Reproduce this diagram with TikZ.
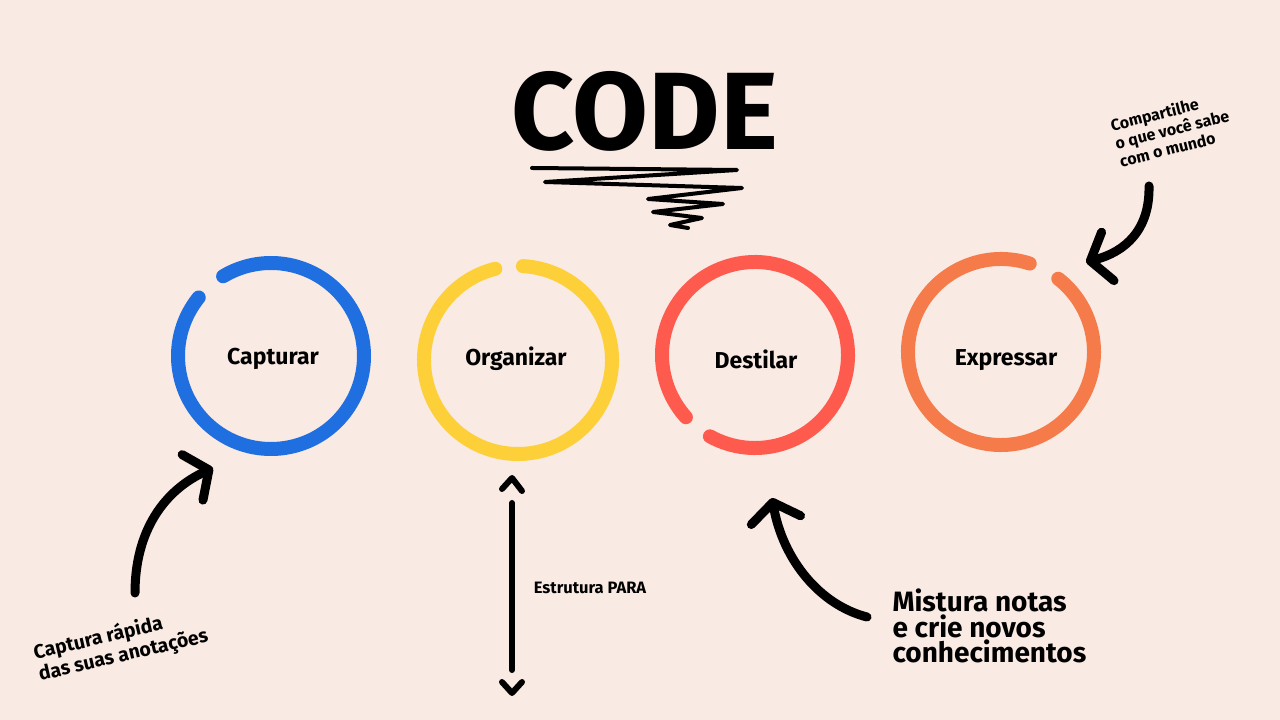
\documentclass[tikz,border=0pt]{standalone}
\usepackage{fontspec}
\setmainfont{Fira Sans}
\usetikzlibrary{arrows.meta}

\definecolor{bgpink}{RGB}{249,234,227}
\definecolor{capblue}{RGB}{31,111,224}
\definecolor{orgyellow}{RGB}{253,208,58}
\definecolor{destred}{RGB}{255,90,78}
\definecolor{exprorange}{RGB}{245,124,74}

\begin{document}
\begin{tikzpicture}[x=1pt,y=1pt,
    ring/.style={line width=14pt, line cap=round},
    stage/.style={font=\fontsize{23}{28}\selectfont\bfseries},
    note/.style={font=\fontsize{17}{19}\selectfont\bfseries, align=left},
    hand/.style={line width=9pt, line cap=round, -{Straight Barb[length=18pt,width=50pt,round]}}]
      % Background
      \fill[bgpink] (0,0) rectangle (1280,720);
      \useasboundingbox (0,0) rectangle (1280,720);

      % Title and scribble
      \node (title) at (645,609) {\fontsize{110}{120}\selectfont\bfseries CODE};
      \draw[line width=4pt, line cap=round, line join=round]
        (532,552) -- (737,550) -- (545,538) -- (742,532) -- (648,521) -- (723,516)
        -- (653,508) -- (702,502) -- (670,495) -- (688,492);

      % The four stages
      \node[stage] (cap) at (273,361) {Capturar};
      \node[stage] (org) at (516,361) {Organizar};
      \node[stage] (dest) at (756,361) {Destilar};
      \node[stage] (expr) at (1006,360) {Expressar};

      \draw[ring, capblue] (271,364) ++(141:93) arc[start angle=141, end angle=481, radius=93];
      \draw[ring, orgyellow] (518,360) ++(104:94) arc[start angle=104, end angle=447, radius=94];
      \draw[ring, destred] (755,365) ++(241:93) arc[start angle=241, end angle=582, radius=93];
      \draw[ring, exprorange] (1001,368) ++(72:93) arc[start angle=72, end angle=412, radius=93];

      % Notes
      \node[note, rotate=13, font=\fontsize{19.5}{22}\selectfont\bfseries] (capnote) at (121,75)
        {Captura rápida\\das suas anotações};
      \node[note, font=\fontsize{16.5}{18}\selectfont\bfseries] (orgnote) at (590,132) {Estrutura PARA};
      \node[note, anchor=west, font=\fontsize{28}{25.5}\selectfont\bfseries] (destnote) at (889,94)
        {Mistura notas\\e crie novos\\conhecimentos};
      \node[note, rotate=14, font=\fontsize{16}{18.5}\selectfont\bfseries] (exprnote) at (1172,591)
        {Compartilhe\\o que você sabe\\com o mundo};

      % Arrows
      \coordinate (captail) at (135,127);
      \coordinate (captip) at (213,252);
      \draw[hand] (captail) .. controls (135,190) and (165,230) .. (captip);

      \coordinate (desttail) at (867,103);
      \coordinate (desttip) at (772,222);
      \draw[hand] (desttail) .. controls (820,115) and (783,160) .. (desttip);

      \coordinate (exprtail) at (1149,534);
      \coordinate (exprtip) at (1086,458);
      \draw[hand] (exprtail) .. controls (1150,490) and (1125,468) .. (exprtip);

      % PARA double arrow
      \coordinate (paratop) at (512,217);
      \coordinate (parabot) at (512,50);
      \draw[line width=6pt, line cap=round] (paratop) -- (parabot);
      \draw[line width=6pt, line cap=round, line join=round] (502,231) -- (512,242) -- (522,229);
      \draw[line width=6pt, line cap=round, line join=round] (502,38) -- (512,27) -- (522,38);
  \end{tikzpicture}
\end{document}
